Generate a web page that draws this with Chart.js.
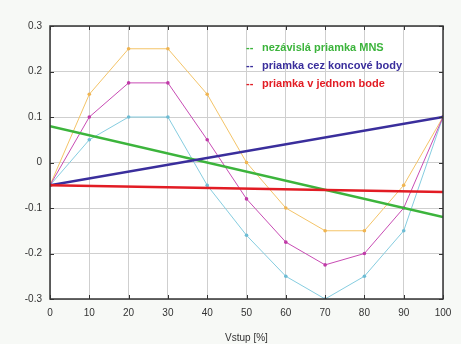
<!DOCTYPE html>
<html>
<head>
<meta charset="utf-8">
<script src="https://cdn.jsdelivr.net/npm/chart.js@4/dist/chart.umd.min.js"></script>
<style>
  html, body { margin: 0; padding: 0; background: #ffffff; }
  #wrap { width: 461px; height: 344px; }
</style>
</head>
<body>
<div id="wrap"><canvas id="graf" width="461" height="344"></canvas></div>
<script>
// hodnoty odčítané z grafu
var vstup = [0, 10, 20, 30, 40, 50, 60, 70, 80, 90, 100];
var oranzova = [-0.05, 0.15, 0.25, 0.25, 0.15, 0.0, -0.1, -0.15, -0.15, -0.05, 0.1];
var fialova = [-0.05, 0.1, 0.175, 0.175, 0.05, -0.08, -0.175, -0.225, -0.2, -0.1, 0.1];
var modra = [-0.05, 0.05, 0.1, 0.1, -0.05, -0.16, -0.25, -0.3, -0.25, -0.15, 0.1];

var konceX = [0, 100];
var priamkaMNS = [0.08, -0.12];
var priamkaKoncove = [-0.05, 0.1];
var priamkaJedenBod = [-0.05, -0.065];

var legendaTexty = ['nezávislá priamka MNS', 'priamka cez koncové body', 'priamka v jednom bode'];
var legendaFarby = ['#3cb43c', '#3a2e9c', '#e21c24'];

var yTicks = [-0.3, -0.2, -0.1, 0, 0.1, 0.2, 0.3];

function body(xs, ys) {
    return xs.map((x, i) => ({ x: x, y: ys[i] }));
}

// rámik, vnútorné značky a legenda
var ramik = {
    id: 'ramik',
    beforeDraw(chart) {
        var a = chart.chartArea, c = chart.ctx;
        c.save();
        c.fillStyle = '#f7f9f6';
        c.fillRect(0, 0, chart.width, chart.height);
        c.fillStyle = '#ffffff';
        c.fillRect(a.left, a.top, a.right - a.left, a.bottom - a.top);
        c.restore();
    },
    afterDraw(chart) {
        var a = chart.chartArea, c = chart.ctx;
        var sx = chart.scales.x, sy = chart.scales.y;
        c.save();
        c.strokeStyle = '#333';
        c.lineWidth = 1.5;
        c.strokeRect(a.left, a.top, a.right - a.left, a.bottom - a.top);
        c.lineWidth = 1;
        vstup.forEach(v => {
            var px = Math.round(sx.getPixelForValue(v)) + 0.5;
            c.beginPath();
            c.moveTo(px, a.bottom); c.lineTo(px, a.bottom - 4);
            c.moveTo(px, a.top); c.lineTo(px, a.top + 4);
            c.stroke();
        });
        yTicks.forEach(v => {
            var py = Math.round(sy.getPixelForValue(v)) + 0.5;
            c.beginPath();
            c.moveTo(a.left, py); c.lineTo(a.left + 4, py);
            c.moveTo(a.right, py); c.lineTo(a.right - 4, py);
            c.stroke();
        });
        c.font = 'bold 11px "Liberation Sans", Arial, sans-serif';
        c.textBaseline = 'middle';
        legendaTexty.forEach((t, i) => {
            var y = 48 + i * 18;
            c.fillStyle = legendaFarby[i];
            c.fillText('--', 246, y);
            c.fillText(t, 262, y);
        });
        c.restore();
    }
};

var tenka = {
    borderWidth: 1,
    pointRadius: 1.8,
    pointBorderWidth: 0
};

new Chart(document.getElementById('graf').getContext('2d'), {
    type: 'line',
    data: {
        datasets: [
            { data: body(konceX, priamkaJedenBod), borderColor: legendaFarby[2], borderWidth: 2.5, pointRadius: 0 },
            { data: body(konceX, priamkaKoncove), borderColor: legendaFarby[1], borderWidth: 2.5, pointRadius: 0 },
            { data: body(konceX, priamkaMNS), borderColor: legendaFarby[0], borderWidth: 2.5, pointRadius: 0 },
            Object.assign({ data: body(vstup, fialova), borderColor: '#c84cb4', backgroundColor: '#c03aa8' }, tenka),
            Object.assign({ data: body(vstup, oranzova), borderColor: '#f4c468', backgroundColor: '#f0b450' }, tenka),
            Object.assign({ data: body(vstup, modra), borderColor: '#86cde0', backgroundColor: '#6cbcd4' }, tenka)
        ]
    },
    options: {
        responsive: false,
        animation: false,
        layout: { padding: { left: 0, right: 18, top: 26, bottom: 0 } },
        plugins: {
            legend: { display: false },
            tooltip: { enabled: false }
        },
        scales: {
            x: {
                type: 'linear',
                min: 0,
                max: 100,
                afterFit: s => { s.height = 45; },
                grid: { color: '#cfcfcf', drawTicks: false },
                border: { display: false },
                ticks: {
                    stepSize: 10,
                    padding: 8,
                    color: '#333',
                    font: { family: 'Liberation Sans, Arial, sans-serif', size: 10 }
                },
                title: {
                    display: true,
                    text: 'Vstup [%]',
                    color: '#333',
                    padding: { top: 6, bottom: 0 },
                    font: { family: 'Liberation Sans, Arial, sans-serif', size: 10 }
                }
            },
            y: {
                min: -0.3,
                max: 0.3,
                afterFit: s => { s.width = 50; },
                grid: { color: '#cfcfcf', drawTicks: false },
                border: { display: false },
                ticks: {
                    stepSize: 0.1,
                    padding: 8,
                    color: '#333',
                    font: { family: 'Liberation Sans, Arial, sans-serif', size: 10 },
                    callback: v => Math.round(v * 10) / 10
                }
            }
        }
    },
    plugins: [ramik]
});
</script>
</body>
</html>
